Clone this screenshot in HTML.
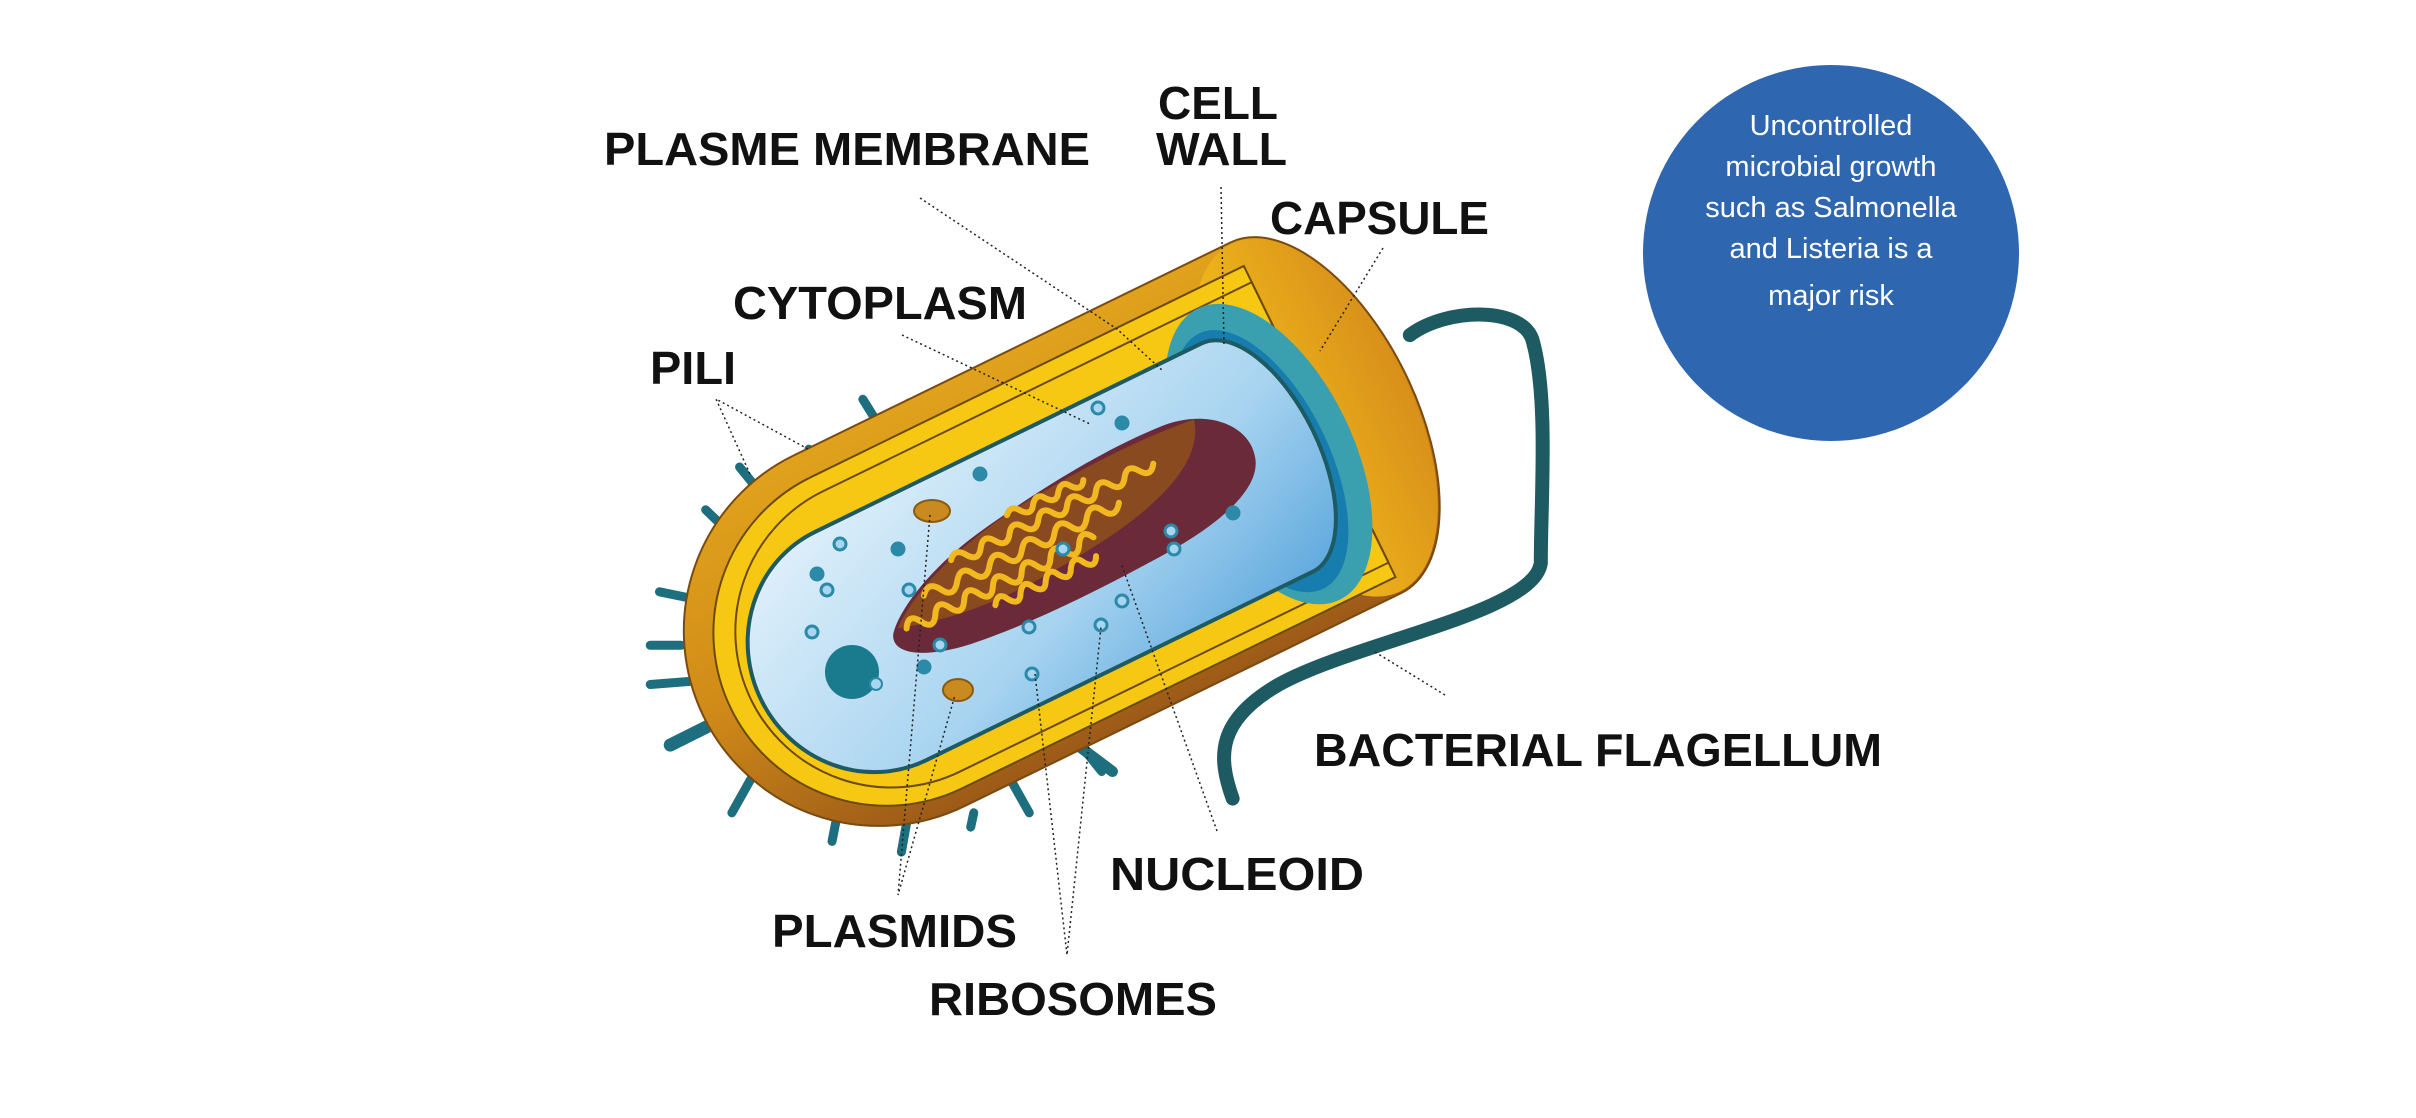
<!DOCTYPE html>
<html><head><meta charset="utf-8"><style>
html,body{margin:0;padding:0;background:#fff;}
svg{display:block;}
.lb{font-family:"Liberation Sans",sans-serif;font-weight:bold;font-size:46px;fill:#111;}
.ct{font-family:"Liberation Sans",sans-serif;font-size:29px;fill:#fff;}
</style></head><body>
<svg width="2416" height="1118" viewBox="0 0 2416 1118" xmlns="http://www.w3.org/2000/svg">
<defs>
<linearGradient id="og" x1="0" y1="0" x2="0" y2="1">
<stop offset="0" stop-color="#e0a21c"/><stop offset="0.5" stop-color="#d08a18"/><stop offset="1" stop-color="#9c5a18"/></linearGradient>
<linearGradient id="cap" x1="0" y1="0" x2="1" y2="0">
<stop offset="0" stop-color="#f6c21a"/><stop offset="1" stop-color="#d8901a"/></linearGradient>
<linearGradient id="bg" x1="0" y1="0" x2="1" y2="1">
<stop offset="0" stop-color="#e4f2fb"/><stop offset="0.6" stop-color="#a8d4f0"/><stop offset="1" stop-color="#5aa6dc"/></linearGradient>
</defs>

<circle cx="1831" cy="253" r="188" fill="#2f66b0"/>
<text class="ct" text-anchor="middle" x="1831" y="135">Uncontrolled</text>
<text class="ct" text-anchor="middle" x="1831" y="176">microbial growth</text>
<text class="ct" text-anchor="middle" x="1831" y="217">such as Salmonella</text>
<text class="ct" text-anchor="middle" x="1831" y="258">and Listeria is a</text>
<text class="ct" text-anchor="middle" x="1831" y="305">major risk</text>

<!-- flagellum -->
<g transform="scale(1.5408,0.713)">
<path d="M915,470 C940,430 990,430 995,480 C1005,560 1000,700 1000,790 C995,860 880,900 830,960 C790,1010 790,1060 800,1120" fill="none" stroke="#1d5a62" stroke-width="14" vector-effect="non-scaling-stroke" stroke-linecap="round"/>
</g>

<!-- pili -->
<g transform="scale(1.5408,0.713)" stroke="#1d6e7e" stroke-width="9" stroke-linecap="round" fill="none">
<line x1="560" y1="560" x2="575" y2="612" vector-effect="non-scaling-stroke"/>
<line x1="590" y1="565" x2="595" y2="600" vector-effect="non-scaling-stroke"/>
<line x1="525" y1="630" x2="545" y2="705" vector-effect="non-scaling-stroke"/>
<line x1="480" y1="655" x2="495" y2="695" vector-effect="non-scaling-stroke"/>
<line x1="458" y1="715" x2="470" y2="740" vector-effect="non-scaling-stroke"/>
<line x1="462" y1="800" x2="502" y2="826" vector-effect="non-scaling-stroke" stroke-width="12"/>
<line x1="428" y1="830" x2="455" y2="842" vector-effect="non-scaling-stroke"/>
<line x1="422" y1="905" x2="442" y2="905" vector-effect="non-scaling-stroke"/>
<line x1="422" y1="960" x2="452" y2="955" vector-effect="non-scaling-stroke"/>
<line x1="435" y1="1045" x2="472" y2="1005" vector-effect="non-scaling-stroke" stroke-width="13"/>
<line x1="475" y1="1140" x2="488" y2="1090" vector-effect="non-scaling-stroke"/>
<line x1="520" y1="1110" x2="540" y2="1040" vector-effect="non-scaling-stroke" stroke-width="11"/>
<line x1="540" y1="1180" x2="545" y2="1125" vector-effect="non-scaling-stroke"/>
<line x1="585" y1="1195" x2="590" y2="1135" vector-effect="non-scaling-stroke"/>
<line x1="630" y1="1160" x2="632" y2="1140" vector-effect="non-scaling-stroke"/>
<line x1="668" y1="1140" x2="655" y2="1090" vector-effect="non-scaling-stroke"/>
<line x1="690" y1="1030" x2="722" y2="1082" vector-effect="non-scaling-stroke" stroke-width="11"/>
<line x1="705" y1="1055" x2="715" y2="1082" vector-effect="non-scaling-stroke"/>
</g>

<!-- cell body -->
<g transform="translate(1055,545) rotate(-26)">
<path d="M-196,-195 L290,-195 A100,195 0 0 1 290,195 L-196,195 A195,195 0 0 1 -196,-195 Z" fill="url(#og)" stroke="#7a4a10" stroke-width="2"/>
<ellipse cx="290" cy="0" rx="98" ry="193" fill="url(#cap)"/>
<path d="M-190,-168 L292,-168 L292,178 L-190,178 A173,173 0 0 1 -190,-168 Z" fill="#f6c814" stroke="#6a4a10" stroke-width="2"/>
<path d="M-185,-150 L292,-150 L292,162 L-185,162 A156,156 0 0 1 -185,-150 Z" fill="none" stroke="#6a4a10" stroke-width="2"/>
<ellipse cx="232" cy="12" rx="84" ry="162" fill="#3a9fae"/>
<ellipse cx="222" cy="15" rx="68" ry="142" fill="#177cae"/>
<path d="M-210,-117 L220,-117 A62,127 0 0 1 220,137 L-210,137 A122,127 0 0 1 -210,-117 Z" fill="url(#bg)" stroke="#1d5a62" stroke-width="4"/>
<!-- nucleoid -->
<path d="M-185,10 C-170,-10 -120,-35 -60,-45 C0,-55 80,-65 150,-60 C200,-55 228,-20 218,10 C208,42 150,55 80,57 C10,60 -60,60 -120,52 C-160,46 -195,30 -185,10 Z" fill="#6b2a3a"/>
<path d="M-178,6 C-140,-25 -80,-42 -20,-50 C40,-56 110,-60 180,-52 C170,-10 110,10 40,18 C-30,26 -100,30 -178,6 Z" fill="#8a4a20"/>
<g fill="none" stroke="#f2b820" stroke-width="6" stroke-linecap="round" stroke-linejoin="round">
<path d="M-170,10 q8,-14 16,0 q8,14 16,0 q8,-14 16,0 q8,14 16,0 q8,-14 16,0 q8,14 16,0 q8,-14 16,0 q8,14 16,0 q8,-14 16,0 q8,14 16,0 q8,-14 16,0 q8,14 16,0 q8,-14 16,0"/>
<path d="M-140,-12 q10,-12 18,2 q8,14 18,0 q10,-14 18,0 q8,14 18,0 q10,-14 18,0 q8,14 18,0 q10,-14 18,0 q8,14 18,0 q10,-14 18,0 q8,14 18,0 q10,-14 18,0 q8,14 18,0"/>
<path d="M-100,-32 q8,-10 16,2 q8,12 16,0 q8,-12 16,0 q8,12 16,0 q8,-12 16,0 q8,12 16,0 q8,-12 16,0 q8,12 16,0 q8,-12 16,0 q8,12 16,0 q8,-12 16,0 q8,12 16,0 q8,-12 16,0 q8,12 16,0"/>
<path d="M-80,28 q8,-12 14,0 q8,12 14,0 q8,-12 14,0 q8,12 14,0 q8,-12 14,0 q8,12 14,0 q8,-12 14,0 q8,12 14,0"/>
<path d="M-30,-48 q8,-8 14,2 q8,10 14,0 q8,-10 14,0 q8,10 14,0 q8,-10 14,0 q8,10 14,0"/>
</g>
</g>

<!-- ribosomes -->
<g fill="#a8d6f0" stroke="#2a8aa8" stroke-width="3">
<circle cx="1098" cy="408" r="6"/><circle cx="1122" cy="423" r="6" fill="#2a8aa8"/><circle cx="980" cy="474" r="6" fill="#2a8aa8"/>
<circle cx="898" cy="549" r="6" fill="#2a8aa8"/><circle cx="840" cy="544" r="6"/><circle cx="817" cy="574" r="6" fill="#2a8aa8"/>
<circle cx="827" cy="590" r="6"/><circle cx="909" cy="590" r="6"/><circle cx="812" cy="632" r="6"/>
<circle cx="940" cy="645" r="6"/><circle cx="924" cy="667" r="6" fill="#2a8aa8"/><circle cx="1029" cy="627" r="6"/>
<circle cx="1101" cy="625" r="6"/><circle cx="1122" cy="601" r="6"/><circle cx="1174" cy="549" r="6"/>
<circle cx="1063" cy="549" r="6"/><circle cx="1032" cy="674" r="6"/><circle cx="1233" cy="513" r="6" fill="#2a8aa8"/>
<circle cx="1171" cy="531" r="6"/>
</g>
<circle cx="852" cy="672" r="27" fill="#1a7a8e"/>
<circle cx="876" cy="684" r="6" fill="#a8d6f0" stroke="#2a8aa8" stroke-width="2"/>
<ellipse cx="932" cy="511" rx="18" ry="11" fill="#c98a20" stroke="#8a5a10" stroke-width="2"/>
<ellipse cx="958" cy="690" rx="15" ry="11" fill="#c98a20" stroke="#8a5a10" stroke-width="2"/>

<!-- leaders -->
<g stroke="#222" stroke-width="1.5" stroke-dasharray="2,3" fill="none">
<polyline points="920,198 1117,329 1163,371"/>
<line x1="1221" y1="187" x2="1224" y2="346"/>
<line x1="1383" y1="248" x2="1320" y2="351"/>
<line x1="902" y1="335" x2="1090" y2="424"/>
<polyline points="808,449 716,399 750,474"/>
<line x1="1445" y1="695" x2="1375" y2="652"/>
<line x1="1217" y1="831" x2="1121" y2="563"/>
<polyline points="930,515 898,895 955,695"/>
<polyline points="1035,674 1067,955 1101,627"/>
</g>

<!-- labels -->
<text class="lb" x="604" y="165" textLength="486" lengthAdjust="spacingAndGlyphs">PLASME MEMBRANE</text>
<text class="lb" x="1158" y="119" textLength="120" lengthAdjust="spacingAndGlyphs">CELL</text>
<text class="lb" x="1156" y="165" textLength="131" lengthAdjust="spacingAndGlyphs">WALL</text>
<text class="lb" x="1270" y="234" textLength="219" lengthAdjust="spacingAndGlyphs">CAPSULE</text>
<text class="lb" x="733" y="319" textLength="294" lengthAdjust="spacingAndGlyphs">CYTOPLASM</text>
<text class="lb" x="650" y="384" textLength="86" lengthAdjust="spacingAndGlyphs">PILI</text>
<text class="lb" x="1314" y="766" textLength="568" lengthAdjust="spacingAndGlyphs">BACTERIAL FLAGELLUM</text>
<text class="lb" x="1110" y="890" textLength="254" lengthAdjust="spacingAndGlyphs">NUCLEOID</text>
<text class="lb" x="772" y="947" textLength="245" lengthAdjust="spacingAndGlyphs">PLASMIDS</text>
<text class="lb" x="929" y="1015" textLength="288" lengthAdjust="spacingAndGlyphs">RIBOSOMES</text>
</svg>
</body></html>
